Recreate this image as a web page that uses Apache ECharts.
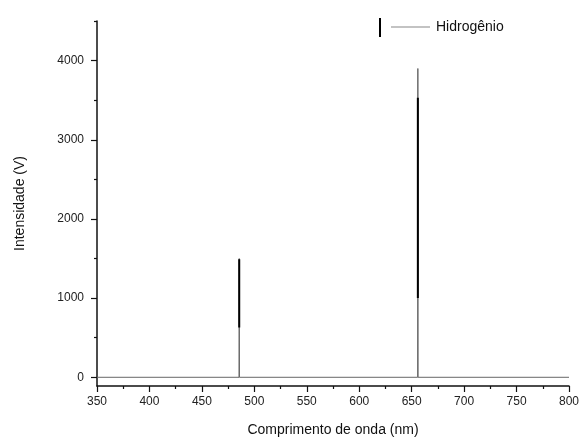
<!DOCTYPE html>
<html>
<head>
<meta charset="utf-8">
<script src="https://cdn.jsdelivr.net/npm/echarts@6/dist/echarts.min.js"></script>
<style>html,body{margin:0;padding:0;background:#fff}#chart{width:583px;height:442px}</style>
</head>
<body>
<div id="chart"></div>
<script>
// spectrum (nm, V)
const wavelength = [350, 485.4, 485.6, 485.8, 655.7, 655.9, 656.1, 800]
const intensity  = [0,   0,     1500,  0,     0,     3900,  0,     0]
// darker, denser part of each emission line
const denseWl  = [485.6, 485.6, null, 655.9, 655.9]
const denseInt = [630,   1490,  null, 1000,  3530]
const yMajor = [0, 1000, 2000, 3000, 4000]
const yMinor = [500, 1500, 2500, 3500, 4500]
const seriesName = "Hidrogênio"

const main = wavelength.map((w, i) => [w, intensity[i]])
const dense = denseWl.map((w, i) => w === null ? "-" : [w, denseInt[i]])

const font = "Liberation Sans, Arial, sans-serif"
const black = "#111"

const chart = echarts.init(document.getElementById("chart"))
chart.setOption({
  animation: false,
  backgroundColor: "#fff",
  grid: { left: 97, right: 14, top: 21, bottom: 55 },
  legend: [
    { left: 379, top: 18, padding: 0, itemWidth: 2, itemHeight: 19, icon: "rect", data: ["Pico"],
      formatter: () => "", selectedMode: false },
    { left: 391, top: 20, padding: 0, itemWidth: 39, itemHeight: 1, itemGap: 0, selectedMode: false,
      data: [{ name: seriesName, icon: "rect", itemStyle: { color: "#888" } }],
      textStyle: { fontFamily: font, fontSize: 14, color: "#111", padding: [0, 0, 0, 1] } }
  ],
  xAxis: {
    type: "value", min: 350, max: 800, interval: 50,
    name: "Comprimento de onda (nm)", nameLocation: "middle", nameGap: 37,
    nameTextStyle: { fontFamily: font, fontSize: 14, color: "#111" },
    axisLine: { onZero: false, lineStyle: { color: black, width: 1.5 } },
    axisTick: { length: 6, lineStyle: { color: black, width: 1.2 } },
    minorTick: { show: true, splitNumber: 2, length: 3, lineStyle: { color: black, width: 1.2 } },
    axisLabel: { fontFamily: font, fontSize: 12, color: "#222", margin: 10 },
    splitLine: { show: false }
  },
  yAxis: [
    {
      type: "value", min: -110, max: 4500,
      name: "Intensidade (V)", nameLocation: "middle", nameGap: 70,
      nameTextStyle: { fontFamily: font, fontSize: 14, color: "#111" },
      axisLine: { show: true, lineStyle: { color: black, width: 1.5 } },
      axisTick: { show: true, length: 6, customValues: yMajor, lineStyle: { color: black, width: 1.2 } },
      axisLabel: { fontFamily: font, fontSize: 12, color: "#222", margin: 13, customValues: yMajor,
        formatter: v => String(v) },
      splitLine: { show: false }
    },
    {
      type: "value", min: -110, max: 4500, position: "left",
      axisLine: { show: false },
      axisTick: { show: true, length: 3, customValues: yMinor, lineStyle: { color: black, width: 1.2 } },
      axisLabel: { show: false },
      splitLine: { show: false }
    }
  ],
  series: [
    { name: seriesName, type: "line", data: main, symbol: "none",
      lineStyle: { color: "#666", width: 1 }, itemStyle: { color: "#888" } },
    { name: "Pico", type: "line", data: dense, symbol: "none", connectNulls: false,
      lineStyle: { color: "#000", width: 2 }, itemStyle: { color: "#000" } }
  ]
})
</script>
</body>
</html>
